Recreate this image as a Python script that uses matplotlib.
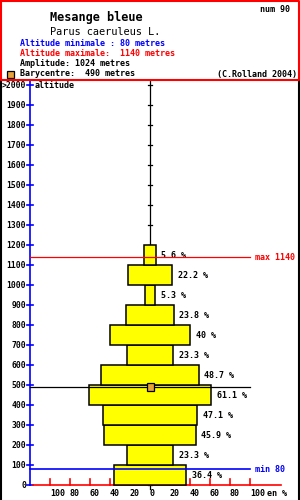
import matplotlib
matplotlib.use("Agg")
import matplotlib.pyplot as plt
from matplotlib.patches import Rectangle

# data
band_low = [0, 100, 200, 300, 400, 500, 600, 700, 800, 900, 1000, 1100]
band_pct = [36.4, 23.3, 45.9, 47.1, 61.1, 48.7, 23.3, 40, 23.8, 5.3, 22.2, 5.6]
alt_ticks = list(range(0, 2001, 100))
alt_labels = [str(a) for a in alt_ticks[:-1]] + [">2000"]
pct_ticks = [-100, -80, -60, -40, -20, 0, 20, 40, 60, 80, 100]
pct_labels = ["100", "80", "60", "40", "20", "0", "20", "40", "60", "80", "100"]
alt_min = 80
alt_max = 1140
barycentre = 490
amplitude = 1024
species = "Mesange bleue"
latin = "Parus caeruleus L."
num = 90

BLUE = "#0000ff"
RED = "#ff0000"
YEL = "#ffff00"
ORANGE = "#e6a23c"
MONO = "DejaVu Sans Mono"
FS = 6.0
W = "bold"
LW = 0.9

fig = plt.figure(figsize=(3, 5), dpi=100)

# ---- chart area (pixel x = 150 + pct, pixel y = 485 - alt/5)
ax = fig.add_axes([0, 0, 1, 0.84])
ax.set_xlim(-150, 150)
ax.set_ylim(-75, 2025)
ax.axis("off")

# frame sides
ax.plot([-149.5, -149.5], [-75, 2025], color="black", lw=1.5, clip_on=False)
ax.plot([148.8, 148.8], [-75, 2025], color="black", lw=1.5, clip_on=False)

# blue altitude axis
ax.plot([-120, -120], [0, 2025], color=BLUE, lw=1.2, zorder=2)
for a, lab in zip(alt_ticks, alt_labels):
    ax.plot([-123, -117], [a, a], color=BLUE, lw=1.2, zorder=2)
    ax.plot([-2, 2], [a, a], color="black", lw=LW, zorder=1)
    ax.text(-124, a, lab, ha="right", va="center", fontsize=5.8,
            family=MONO, fontweight=W)
ax.text(-115, 2000, "altitude", ha="left", va="center", fontsize=FS,
        family=MONO, fontweight=W)

# centre line
ax.plot([0, 0], [-20, 2025], color="black", lw=LW, zorder=1)

# red percent axis
ax.plot([-117, 131], [0, 0], color=RED, lw=1.2, zorder=2)
for t, lab in zip(pct_ticks, pct_labels):
    if t != 0:
        ax.plot([t, t], [0, 30], color=RED, lw=1.2, zorder=2)
    ax.text(t, -45, lab, ha="left", va="center", fontsize=FS,
            family=MONO, fontweight=W)
ax.text(117, -45, "en %", ha="left", va="center", fontsize=FS,
        family=MONO, fontweight=W)

# bars
ax.barh(band_low, [2 * v for v in band_pct],
        left=[-v for v in band_pct], height=100, align="edge",
        color=YEL, edgecolor="black", linewidth=1.1, zorder=3)
for b, v in zip(band_low, band_pct):
    ax.text(v + 5.5, b + 50, f"{v:g} %", ha="left", va="center",
            fontsize=FS, family=MONO, fontweight=W, zorder=4)

# reference lines
ax.plot([-120, 100], [alt_max, alt_max], color=RED, lw=LW, zorder=5)
ax.text(105, alt_max, f"max {alt_max}", color=RED, ha="left", va="center",
        fontsize=FS, family=MONO, fontweight=W)
ax.plot([-120, 100], [alt_min, alt_min], color=BLUE, lw=1.2, zorder=5)
ax.text(105, alt_min, f"min {alt_min}", color=BLUE, ha="left", va="center",
        fontsize=FS, family=MONO, fontweight=W)
ax.plot([-120, 100], [barycentre, barycentre], color="black", lw=LW, zorder=5)
ax.add_patch(Rectangle((-3.5, barycentre - 20), 7, 40, facecolor=ORANGE,
                       edgecolor="black", lw=LW, zorder=6))

# ---- header (pixel coordinates)
hx = fig.add_axes([0, 0.84, 1, 0.16])
hx.set_xlim(0, 300)
hx.set_ylim(80, 0)
hx.axis("off")
hx.plot([0.5, 298.8, 298.8, 0.5, 0.5], [0.7, 0.7, 80, 80, 0.7],
        color=RED, lw=1.5, clip_on=False)

hx.text(290, 9, f"num {num}", ha="right", va="center", fontsize=FS,
        family=MONO, fontweight=W)
hx.text(50, 17, species, ha="left", va="center", fontsize=8.6,
        family=MONO, fontweight="bold")
hx.text(50, 32, latin, ha="left", va="center", fontsize=7.4, family=MONO)
hx.text(20, 44, f"Altitude minimale : {alt_min} metres", color=BLUE,
        ha="left", va="center", fontsize=FS, family=MONO, fontweight=W)
hx.text(20, 54, f"Altitude maximale:  {alt_max} metres", color=RED,
        ha="left", va="center", fontsize=FS, family=MONO, fontweight=W)
hx.text(20, 64, f"Amplitude: {amplitude} metres", ha="left", va="center",
        fontsize=FS, family=MONO, fontweight=W)
hx.add_patch(Rectangle((6.5, 70.5), 7, 7, facecolor=ORANGE,
                       edgecolor="black", lw=LW))
hx.text(20, 74, f"Barycentre:  {barycentre} metres", ha="left", va="center",
        fontsize=FS, family=MONO, fontweight=W)
hx.text(297, 74, "(C.Rolland 2004)", ha="right", va="center", fontsize=FS,
        family=MONO, fontweight=W)

fig.savefig("out.png", dpi=100, facecolor="white")
